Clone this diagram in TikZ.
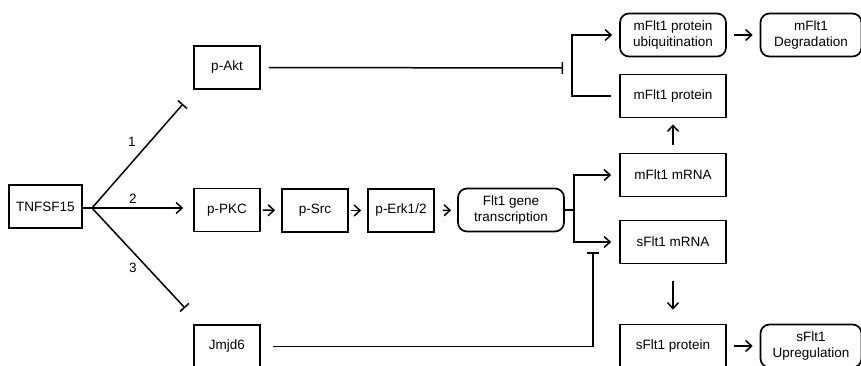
\documentclass[tikz,border=0pt]{standalone}
\usepackage{fontspec}
\setmainfont{Liberation Sans}
\usetikzlibrary{arrows.meta}

\tikzset{
  box/.style={draw, line width=1.7pt, minimum width=66pt, minimum height=43pt,
              inner sep=1pt, align=center, font=\fontsize{13.5}{15.5}\selectfont},
  wbox/.style={box, minimum width=106pt},
  rbox/.style={wbox, rounded corners=9pt},
  arr/.style={line width=1.5pt, -{Straight Barb[length=6pt,width=11pt]},
              shorten <=7pt, shorten >=7pt},
  inh/.style={line width=1.5pt, -{Bar[width=12pt]}},
  lab/.style={font=\fontsize{13.5}{15.5}\selectfont},
}

\begin{document}
\begin{tikzpicture}[x=1pt, y=-1pt]
    \useasboundingbox (0,0) rectangle (861,366);

    % Lewa kolumna i trzy szlaki
    \node[box, minimum width=73pt] (tnf) at (45.5,206.5) {TNFSF15};
    \node[box] (akt)  at (227,67.5)  {p-Akt};
    \node[box] (pkc)  at (227,210)   {p-PKC};
    \node[box] (src)  at (315,210.5) {p-Src};
    \node[box] (erk)  at (401,210.5) {p-Erk1/2};
    \node[box] (jmjd) at (227,346.5) {Jmjd6};
    \node[rbox] (trans) at (511,210) {Flt1 gene\\transcription};

    % Prawa kolumna
    \node[rbox] (ubiq)  at (673,35)  {mFlt1 protein\\ubiquitination};
    \node[rbox, minimum width=101pt] (degr) at (811,35) {mFlt1\\Degradation};
    \node[wbox] (mprot) at (673,96)  {mFlt1 protein};
    \node[wbox] (mrna)  at (673,175) {mFlt1 mRNA};
    \node[wbox] (srna)  at (673,242) {sFlt1 mRNA};
    \node[wbox] (sprot) at (673,346) {sFlt1 protein};
    \node[rbox, minimum width=101pt] (upreg) at (811,346) {sFlt1\\Upregulation};

    % Rozgalezienie TNFSF15
    \coordinate (fork) at (92,208);
    \coordinate (aktbar) at (183,104);
    \coordinate (jmjbar) at (185,308);
    \draw[line width=1.5pt] (tnf.east) ++(0,1.5) -- (fork);
    \draw[inh] (fork) -- (aktbar);
    \draw[inh] (fork) -- (jmjbar);
    \draw[arr, shorten <=0pt, shorten >=10pt] (fork) -- (fork -| pkc.west);
    \node[lab] (n1) at (132,142) {1};
    \node[lab] (n2) at (133,199) {2};
    \node[lab] (n3) at (133,268) {3};

    % Kaskada kinaz
    \draw[arr, shorten <=2pt, shorten >=6pt] (pkc) -- (src);
    \draw[arr, shorten <=2pt, shorten >=6pt] (src) -- (erk);
    \draw[arr, shorten <=8pt, shorten >=6pt] (erk) -- (trans);

    % Transkrypcja -> mRNA
    \coordinate (tfork) at (574,210);
    \draw[line width=1.5pt] (trans.east) -- (tfork);
    \draw[arr, shorten <=0pt, shorten >=8pt] (tfork) |- (mrna.west);
    \draw[arr, shorten <=0pt, shorten >=8pt] (tfork) |- (srna.west);

    % Hamowanie przez p-Akt i Jmjd6
    \coordinate (aktend) at (563,68);
    \draw[inh, shorten <=8pt] (akt.east) -- (aktend);
    \coordinate (jmjend) at (593,252);
    \draw[inh, shorten <=12pt] (jmjd.east) -| (jmjend);

    % Bialko mFlt1
    \draw[arr, shorten <=8pt] (mprot.west) -- ++(-47,0) |- (ubiq.west);
    \draw[arr, shorten <=8pt, shorten >=6pt] (mrna) -- (mprot);
    \draw[arr] (ubiq) -- (degr);

    % Bialko sFlt1
    \draw[arr, shorten <=17pt, shorten >=14pt] (srna) -- (sprot);
    \draw[arr] (sprot) -- (upreg);
\end{tikzpicture}
\end{document}
